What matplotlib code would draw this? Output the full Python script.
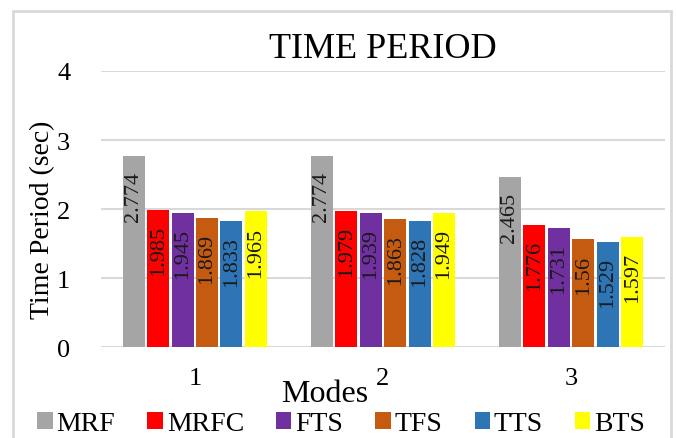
import numpy as np
import matplotlib.pyplot as plt

plt.rcParams['font.family'] = ['Liberation Serif', 'DejaVu Serif']

# ==========================================================
# Data
# ==========================================================

modes = ["1", "2", "3"]
series = ["MRF", "MRFC", "FTS", "TFS", "TTS", "BTS"]
colors = ["#A5A5A5", "#FF0000", "#7030A0", "#C55A11", "#2E75B6", "#FFFF00"]

mrf = [2.774, 2.774, 2.465]
mrfc = [1.985, 1.979, 1.776]
fts = [1.945, 1.939, 1.731]
tfs = [1.869, 1.863, 1.56]
tts = [1.833, 1.828, 1.529]
bts = [1.965, 1.949, 1.597]

values = [mrf, mrfc, fts, tfs, tts, bts]

# ==========================================================
# Plot
# ==========================================================

fig = plt.figure(figsize=(6.76, 4.39), dpi=100)
ax = fig.add_axes([0.149, 0.207, 0.835, 0.629])

x = np.arange(len(modes))
slot = 0.78 / len(series)
width = slot * 0.9

for i, (name, vals, color) in enumerate(zip(series, values, colors)):
    pos = x - 0.39 + slot * (i + 0.5)
    bars = ax.bar(pos, vals, width, color=color, label=name, zorder=3)
    for bar, v in zip(bars, vals):
        ax.text(
            bar.get_x() + bar.get_width() / 2,
            v - 0.22,
            f"{v:g}",
            rotation=90,
            ha="center",
            va="top",
            fontsize=16,
            color="#1a1a1a",
            zorder=4
        )

ax.set_xlim(-0.5, 2.5)
ax.set_ylim(0, 4)
ax.set_yticks([0, 1, 2, 3, 4])
ax.set_xticks(x)
ax.set_xticklabels(modes)
ax.tick_params(axis="x", length=0, pad=14, labelsize=19)
ax.tick_params(axis="y", length=0, pad=22, labelsize=19)

ax.grid(axis="y", color="#D9D9D9", linewidth=1.5, zorder=0)
for s in ax.spines.values():
    s.set_visible(False)

ax.set_title("TIME PERIOD", fontsize=26, pad=10)
ax.set_ylabel("Time Period (sec)", fontsize=20)
ax.yaxis.set_label_coords(-0.08, 0.465)
ax.set_xlabel("Modes", fontsize=23)
ax.xaxis.set_label_coords(0.397, -0.115)

fig.legend(
    loc="center",
    bbox_to_anchor=(0.505, 0.033),
    ncol=6,
    frameon=False,
    fontsize=20,
    handlelength=0.55,
    handleheight=0.55,
    handletextpad=0.15,
    columnspacing=1.15
)

# thin border round the figure
fig.patches.append(plt.Rectangle(
    (0.019, -0.01), 0.974, 0.983,
    transform=fig.transFigure,
    fill=False,
    edgecolor="#D9D9D9",
    linewidth=2
))

plt.savefig("out.png", dpi=100)
plt.close()
